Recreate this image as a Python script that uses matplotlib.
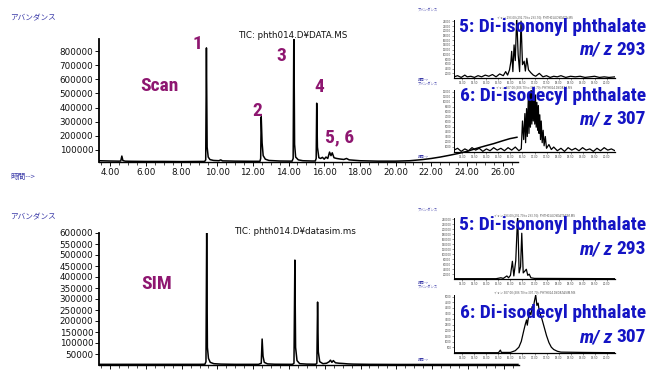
import matplotlib
matplotlib.use('Agg')
import matplotlib.pyplot as plt
from matplotlib.ticker import MultipleLocator, FixedLocator
from matplotlib import font_manager

W, H = 646, 370

# main chromatograms: retention time (min) and abundance
scan_time = [3.38, 4.0, 4.5, 4.6, 4.66, 4.72, 4.85, 5.2, 6.0, 7.0, 8.0, 9.0, 9.3, 9.36, 9.40, 9.44,
             9.5, 9.6, 9.8, 10.1, 10.2, 10.3, 11.0, 12.0, 12.4, 12.44, 12.47, 12.52, 12.58, 12.7, 12.9,
             13.5, 14.2, 14.26, 14.3, 14.34, 14.4, 14.55, 14.8, 15.3, 15.5, 15.55, 15.58, 15.62, 15.7,
             15.8, 15.9, 16.0, 16.1, 16.2, 16.3, 16.38, 16.45, 16.55, 16.7, 16.9, 17.1, 17.25, 17.4,
             17.7, 18.0, 19.0, 20.0, 20.8, 21.5, 22.0, 22.5, 23.0, 23.5, 24.0, 24.5, 25.0, 25.5, 26.0,
             26.4, 26.8]
scan_abund = [24000, 22000, 21000, 22000, 57000, 25000, 21000, 20000, 19000, 19000, 18000, 19000,
              19000, 30000, 822000, 120000, 50000, 32000, 26000, 24000, 30000, 23000, 21000, 20000,
              20000, 40000, 335000, 150000, 60000, 35000, 26000, 22000, 21000, 40000, 1000000, 140000,
              50000, 30000, 24000, 22000, 22000, 40000, 431000, 120000, 45000, 40000, 48000, 35000,
              50000, 40000, 85000, 60000, 80000, 45000, 40000, 36000, 33000, 40000, 30000, 27000,
              24000, 21000, 21000, 24000, 32000, 40000, 50000, 62000, 75000, 90000, 110000, 128000,
              145000, 165000, 180000, 190000]

sim_time = [3.38, 5.0, 7.0, 9.0, 9.3, 9.36, 9.40, 9.44, 9.5, 9.6, 9.8, 10.2, 11.0, 12.3, 12.45,
            12.5, 12.55, 12.62, 12.8, 13.2, 14.2, 14.28, 14.33, 14.37, 14.45, 14.6, 15.0, 15.5,
            15.56, 15.6, 15.64, 15.72, 15.9, 16.1, 16.25, 16.32, 16.4, 16.48, 16.6, 16.8, 17.0,
            17.3, 17.6, 18.5, 20.0, 22.0, 24.0, 26.8]
sim_abund = [3000, 3000, 3000, 3000, 3500, 15000, 610000, 80000, 30000, 12000, 6000, 4000, 3000,
             3000, 8000, 118000, 40000, 12000, 5000, 3500, 3000, 8000, 477000, 80000, 20000, 6000,
             4000, 3500, 8000, 286000, 60000, 15000, 6000, 8000, 15000, 22000, 12000, 20000, 10000,
             8000, 7000, 5000, 4000, 3000, 2500, 2500, 2500, 2500]

scan_yticks = [100000, 200000, 300000, 400000, 500000, 600000, 700000, 800000]
sim_yticks = [50000, 100000, 150000, 200000, 250000, 300000, 350000, 400000, 450000, 500000,
              550000, 600000]
time_ticks = [4, 6, 8, 10, 12, 14, 16, 18, 20, 22, 24, 26]

# extracted ion insets: time (min), relative abundance
dinp_scan_time = [13.65, 13.8, 13.95, 14.1, 14.2, 14.35, 14.5, 14.65, 14.8, 14.95, 15.1, 15.25,
                  15.4, 15.55, 15.7, 15.8, 15.88, 15.96, 16.02, 16.05, 16.1, 16.15, 16.2, 16.26,
                  16.32, 16.38, 16.44, 16.5, 16.57, 16.62, 16.68, 16.75, 16.85, 16.95, 17.05, 17.2,
                  17.35, 17.5, 17.65, 17.8, 17.95, 18.1, 18.3, 18.5, 18.7, 18.9, 19.1, 19.3, 19.5,
                  19.7, 19.9, 20.1, 20.35]
dinp_scan_rel = [0.02, 0.04, 0.01, 0.05, 0.02, 0.03, 0.01, 0.04, 0.02, 0.05, 0.03, 0.06, 0.02,
                 0.07, 0.04, 0.11, 0.05, 0.14, 0.29, 0.46, 0.11, 0.57, 0.3, 1.05, 0.4, 0.11, 0.98,
                 0.23, 0.29, 0.12, 0.34, 0.14, 0.09, 0.05, 0.03, 0.08, 0.02, 0.04, 0.01, 0.03,
                 0.02, 0.04, 0.01, 0.03, 0.02, 0.03, 0.01, 0.02, 0.03, 0.01, 0.02, 0.01, 0.02]

didp_scan_time = [13.65, 13.8, 13.95, 14.1, 14.25, 14.4, 14.55, 14.7, 14.85, 15.0, 15.15, 15.3,
                  15.45, 15.6, 15.75, 15.9, 16.05, 16.2, 16.35, 16.45, 16.5, 16.55, 16.6, 16.63,
                  16.67, 16.7, 16.74, 16.77, 16.8, 16.83, 16.86, 16.89, 16.92, 16.95, 16.98, 17.01,
                  17.04, 17.07, 17.1, 17.13, 17.16, 17.19, 17.22, 17.25, 17.28, 17.32, 17.36, 17.4,
                  17.45, 17.5, 17.6, 17.7, 17.8, 17.95, 18.1, 18.25, 18.4, 18.55, 18.7, 18.85, 19.0,
                  19.15, 19.3, 19.45, 19.6, 19.75, 19.9, 20.05, 20.2, 20.35]
didp_scan_rel = [0.03, 0.06, 0.01, 0.05, 0.02, 0.07, 0.03, 0.06, 0.01, 0.05, 0.02, 0.07, 0.03,
                 0.06, 0.02, 0.07, 0.03, 0.08, 0.02, 0.05, 0.5, 0.2, 0.62, 0.15, 0.7, 0.25, 0.85,
                 0.3, 0.95, 0.4, 1.05, 0.45, 0.98, 0.5, 0.9, 0.45, 0.92, 0.4, 0.8, 0.35, 0.75, 0.3,
                 0.6, 0.2, 0.5, 0.15, 0.35, 0.1, 0.25, 0.06, 0.12, 0.04, 0.08, 0.02, 0.06, 0.01,
                 0.07, 0.03, 0.06, 0.02, 0.07, 0.03, 0.05, 0.01, 0.06, 0.02, 0.07, 0.03, 0.05, 0.02]

dinp_sim_time = [13.65, 15.4, 15.6, 15.7, 15.85, 15.92, 16.0, 16.08, 16.14, 16.22, 16.3, 16.36,
                 16.42, 16.47, 16.53, 16.6, 16.66, 16.72, 16.78, 16.85, 17.0, 20.35]
dinp_sim_rel = [0.005, 0.005, 0.02, 0.01, 0.05, 0.02, 0.06, 0.29, 0.05, 0.3, 1.05, 0.1, 0.2, 0.75,
                0.1, 0.13, 0.16, 0.06, 0.08, 0.02, 0.01, 0.005]

didp_sim_time = [13.65, 15.5, 15.58, 15.62, 16.0, 16.2, 16.35, 16.45, 16.55, 16.62, 16.67, 16.7,
                 16.75, 16.8, 16.85, 16.9, 16.95, 17.0, 17.05, 17.1, 17.15, 17.2, 17.3, 17.4, 17.5,
                 17.6, 17.7, 17.8, 17.95, 18.1, 19.0, 20.35]
didp_sim_rel = [0.005, 0.005, 0.05, 0.01, 0.01, 0.04, 0.1, 0.2, 0.38, 0.5, 0.57, 0.48, 0.62, 0.7,
                0.66, 0.8, 0.78, 0.9, 1.0, 0.82, 0.86, 0.72, 0.6, 0.45, 0.3, 0.18, 0.1, 0.06, 0.03,
                0.015, 0.01, 0.005]

inset_time_ticks = [14.0, 14.5, 15.0, 15.5, 16.0, 16.5, 17.0, 17.5, 18.0, 18.5, 19.0, 19.5, 20.0]
inset_ylabels_scan293 = ['2000', '4000', '6000', '8000', '10000', '12000', '14000', '16000',
                         '18000', '20000', '22000', '24000']
inset_ylabels_scan307 = ['1000', '2000', '3000', '4000', '5000', '6000', '7000', '8000', '9000',
                         '10000', '11000', '12000']
inset_ylabels_sim293 = ['20000', '40000', '60000', '80000', '100000', '120000', '140000',
                        '160000', '180000', '200000', '220000', '240000']
inset_ylabels_sim307 = ['500', '1000', '1500', '2000', '2500', '3000', '3500', '4000', '4500',
                        '5000']

MAGENTA = '#8e1670'
BLUE = '#1414c4'
NAVY = '#3a3aa8'
JP = ['Noto Sans CJK JP', 'DejaVu Sans']

# pick a narrow bold face for the big labels
names = set(f.name for f in font_manager.fontManager.ttflist)
NARROW = 'DejaVu Sans'
for cand in ['Liberation Sans Narrow', 'Roboto Condensed', 'Open Sans Condensed']:
    if cand in names:
        NARROW = cand
        break

fig = plt.figure(figsize=(W / 100, H / 100), dpi=100)


def px_axes(left, top, right, bottom):
    return fig.add_axes([left / W, 1 - bottom / H, (right - left) / W, (bottom - top) / H])


def ftext(x, y, s, **kw):
    return fig.text(x / W, 1 - y / H, s, **kw)


def main_axes(ax, t, a, ylim, yticks):
    ax.plot(t, a, color='black', lw=1.1)
    ax.set_xlim(3.38, 26.86)
    ax.set_ylim(*ylim)
    ax.patch.set_alpha(0)
    for s in ['top', 'right']:
        ax.spines[s].set_visible(False)
    ax.spines['left'].set_linewidth(1.3)
    ax.spines['bottom'].set_linewidth(1.0)
    ax.set_yticks(yticks)
    ax.set_yticklabels([str(v) for v in yticks])
    ax.set_xticks(time_ticks)
    ax.set_xticklabels(['%.2f' % v for v in time_ticks])
    ax.xaxis.set_minor_locator(MultipleLocator(0.5))
    ax.tick_params(labelsize=6.3, length=3, width=0.7, pad=1.2, colors='#111111')
    ax.tick_params(which='minor', length=1.8, width=0.5)


def inset(ax, t, r, ylabels, title):
    ax.plot(t, r, color='black', lw=0.9)
    ax.set_xlim(13.65, 20.35)
    ax.set_ylim(0, 1.0)
    ax.patch.set_alpha(0)
    for s in ['top', 'right']:
        ax.spines[s].set_visible(False)
    ax.spines['left'].set_linewidth(0.7)
    ax.spines['bottom'].set_linewidth(0.9)
    n = len(ylabels)
    ax.yaxis.set_major_locator(FixedLocator([(i + 1) / (n + 0.3) for i in range(n)]))
    ax.set_yticklabels(ylabels)
    ax.set_xticks(inset_time_ticks)
    ax.set_xticklabels(['%.2f' % v for v in inset_time_ticks])
    ax.tick_params(labelsize=1.9, length=1.2, width=0.4, pad=0.8, colors='#444444')
    ax.set_title(title, fontsize=2.2, color='#555555', pad=1.5, family=JP)


# top: scan
ax1 = px_axes(99, 39, 518, 162)
main_axes(ax1, scan_time, scan_abund, (15000, 885000), scan_yticks)

# bottom: SIM
ax2 = px_axes(99, 233, 519, 365)
main_axes(ax2, sim_time, sim_abund, (0, 600000), sim_yticks)

ia = px_axes(454, 20, 615, 78)
inset(ia, dinp_scan_time, dinp_scan_rel, inset_ylabels_scan293,
      'イオン 293.00 (292.70 to 293.70): PHTH014.D¥DATA.MS')
ib = px_axes(454, 90, 615, 152)
inset(ib, didp_scan_time, didp_scan_rel, inset_ylabels_scan307,
      'イオン 307.00 (306.70 to 307.70): PHTH014.D¥DATA.MS')
ic = px_axes(454, 218, 615, 279)
inset(ic, dinp_sim_time, dinp_sim_rel, inset_ylabels_sim293,
      'イオン 293.00 (292.70 to 293.70): PHTH014.D¥DATASIM.MS')
idd = px_axes(454, 295, 615, 353)
inset(idd, didp_sim_time, didp_sim_rel, inset_ylabels_sim307,
      'イオン 307.00 (306.70 to 307.70): PHTH014.D¥DATASIM.MS')

# small header texts
ftext(10, 18, 'アバンダンス', fontsize=5.5, color=NAVY, family=JP, va='center')
ftext(10, 217, 'アバンダンス', fontsize=5.5, color=NAVY, family=JP, va='center')
ftext(10, 177, '時間-->', fontsize=5.5, color=NAVY, family=JP, va='center')
ftext(238, 36, 'TIC: phth014.D¥DATA.MS', fontsize=6.3, color='#111111', va='center')
ftext(234, 232, 'TIC: phth014.D¥datasim.ms', fontsize=6.3, color='#111111', va='center')
for y in [10, 84, 210, 287]:
    ftext(418, y, 'アバンダンス', fontsize=2.4, color=NAVY, family=JP, va='center')
for y in [80, 157, 283, 360]:
    ftext(418, y, '時間-->', fontsize=2.4, color=NAVY, family=JP, va='center')

# peak labels
mk = dict(color=MAGENTA, fontsize=14, fontweight='bold', family=NARROW, stretch='condensed',
          ha='center', va='center')
ftext(197, 44, '1', **mk)
ftext(257, 111, '2', **mk)
ftext(281, 56, '3', **mk)
ftext(319, 87, '4', **mk)
ftext(340, 137, '5, 6', **mk)
ftext(159, 86, 'Scan', **mk)
ftext(157, 284, 'SIM', **mk)

# compound labels
bl = dict(color=BLUE, fontsize=14, fontweight='bold', family=NARROW, stretch='condensed',
          ha='right', va='center')
ftext(646, 27, '5: Di-isononyl phthalate', **bl)
ftext(646, 96, '6: Di-isodecyl phthalate', **bl)
ftext(646, 225, '5: Di-isononyl phthalate', **bl)
ftext(646, 313, '6: Di-isodecyl phthalate', **bl)

fig.canvas.draw()
renderer = fig.canvas.get_renderer()
for y, mz in [(50, '293'), (119, '307'), (249, '293'), (337, '307')]:
    num = ftext(646, y, mz, **bl)
    left = num.get_window_extent(renderer).x0
    fig.text((left - 4) / W, 1 - y / H, 'm/ z', color=BLUE, fontsize=14, fontweight='bold',
             fontstyle='italic', family=NARROW, stretch='condensed', ha='right', va='center')

fig.savefig('out.png', dpi=100)
